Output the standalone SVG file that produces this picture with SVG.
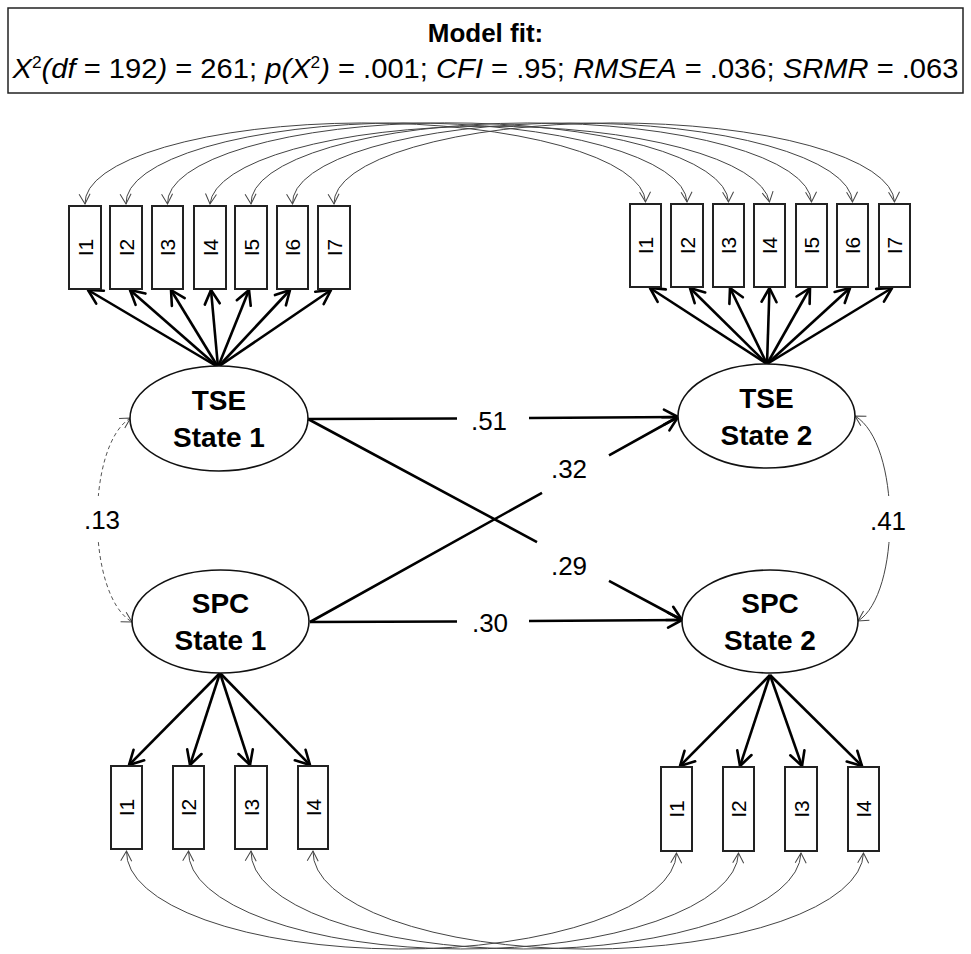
<svg xmlns="http://www.w3.org/2000/svg" width="971" height="954" viewBox="0 0 971 954">
<style>
  text { font-family: "Liberation Sans", Arial, sans-serif; fill: #000; }
  .ind { fill: #fff; stroke: #222; stroke-width: 2; }
  .lat { fill: #fff; stroke: #111; stroke-width: 1.6; }
  .ilab { font-size: 21px; text-anchor: middle; dominant-baseline: central; }
  .llab { font-size: 28px; font-weight: bold; text-anchor: middle; }
  .plab { font-size: 26px; text-anchor: middle; }
  .thick { fill: none; stroke: #000; stroke-width: 2.6; marker-end: url(#ah); }
  .cov { fill: none; stroke: #444; stroke-width: 1; marker-start: url(#th); marker-end: url(#th); }
  .dash { stroke-dasharray: 4 3; stroke: #555; }
</style>
<defs>
  <marker id="ah" markerUnits="userSpaceOnUse" viewBox="-18 -10 20 20" refX="0" refY="0" markerWidth="20" markerHeight="20" orient="auto" overflow="visible">
    <path d="M -14 -7.5 L 0 0 L -14 7.5" fill="none" stroke="#000" stroke-width="2.6" stroke-linejoin="round" stroke-linecap="round"/>
  </marker>
  <marker id="th" markerUnits="userSpaceOnUse" viewBox="-12 -7 14 14" refX="0" refY="0" markerWidth="14" markerHeight="14" orient="auto-start-reverse" overflow="visible">
    <path d="M -10 -5.5 L 0 0 L -10 5.5" fill="none" stroke="#444" stroke-width="1"/>
  </marker>
</defs>

<g id="fit-box">
  <rect x="8" y="8" width="955" height="85" fill="#fff" stroke="#222" stroke-width="1.5"/>
  <text x="485.5" y="42" font-size="26" font-weight="bold" text-anchor="middle">Model fit:</text>
  <text x="485.5" y="78" font-size="27" text-anchor="middle" textLength="946" lengthAdjust="spacingAndGlyphs"><tspan font-style="italic">X</tspan><tspan font-size="16" dy="-10">2</tspan><tspan font-style="italic" dy="10">(df</tspan> = 192<tspan font-style="italic">)</tspan> = 261; <tspan font-style="italic">p(X</tspan><tspan font-size="16" dy="-10">2</tspan><tspan font-style="italic" dy="10">)</tspan> = .001; <tspan font-style="italic">CFI</tspan> = .95; <tspan font-style="italic">RMSEA</tspan> = .036; <tspan font-style="italic">SRMR</tspan> = .063</text>
</g>

<g id="connectors">
  <!-- top covariance arcs -->
  <path class="cov" d="M 85 204 A 280 80 0 0 1 645.5 202"/>
  <path class="cov" d="M 126 204 A 280 80 0 0 1 687 202"/>
  <path class="cov" d="M 167.5 204 A 280 80 0 0 1 728.5 202"/>
  <path class="cov" d="M 210 204 A 280 80 0 0 1 769.5 202"/>
  <path class="cov" d="M 251 204 A 280 80 0 0 1 811.5 202"/>
  <path class="cov" d="M 292.5 204 A 280 80 0 0 1 852.5 202"/>
  <path class="cov" d="M 334 204 A 280 80 0 0 1 894.5 202"/>
  <!-- bottom covariance arcs -->
  <path class="cov" d="M 126.5 851 A 275 97 0 0 0 676.5 853"/>
  <path class="cov" d="M 188.5 851 A 275 97 0 0 0 738.5 853"/>
  <path class="cov" d="M 251 851 A 275 97 0 0 0 801 853"/>
  <path class="cov" d="M 313 851 A 275 97 0 0 0 863.5 853"/>
  <!-- latent covariances -->
  <path class="cov dash" d="M 130.5 418 C 86 445, 86 595, 132 622"/>
  <path class="cov" d="M 855 416 C 901 443, 901 594, 858 621"/>
  <!-- loadings TSE State 1 -->
  <path class="thick" d="M 218 367 L 88 290"/>
  <path class="thick" d="M 218 367 L 130 290"/>
  <path class="thick" d="M 218 367 L 171 290"/>
  <path class="thick" d="M 218 367 L 211 290"/>
  <path class="thick" d="M 218 367 L 249 290"/>
  <path class="thick" d="M 218 367 L 290 290"/>
  <path class="thick" d="M 218 367 L 331 290"/>
  <!-- loadings TSE State 2 -->
  <path class="thick" d="M 767 364 L 650 288"/>
  <path class="thick" d="M 767 364 L 690 288"/>
  <path class="thick" d="M 767 364 L 730 288"/>
  <path class="thick" d="M 767 364 L 769.5 288"/>
  <path class="thick" d="M 767 364 L 810 288"/>
  <path class="thick" d="M 767 364 L 850 288"/>
  <path class="thick" d="M 767 364 L 892 288"/>
  <!-- loadings SPC State 1 -->
  <path class="thick" d="M 220 673 L 129 765"/>
  <path class="thick" d="M 220 673 L 190 765"/>
  <path class="thick" d="M 220 673 L 250 765"/>
  <path class="thick" d="M 220 673 L 310 765"/>
  <!-- loadings SPC State 2 -->
  <path class="thick" d="M 770 675 L 680 766"/>
  <path class="thick" d="M 770 675 L 740 766"/>
  <path class="thick" d="M 770 675 L 802 766"/>
  <path class="thick" d="M 770 675 L 862 766"/>
  <!-- structural paths -->
  <path class="thick" d="M 308 419 L 457 418.5 M 529 418 L 678 417"/>
  <path class="thick" d="M 310 622 L 457 621.5 M 529 621 L 682 620"/>
  <path class="thick" d="M 308 419 L 537 542.1 M 609 580.8 L 682 620"/>
  <path class="thick" d="M 310 622 L 542 492.8 M 609 455.4 L 678 417"/>
</g>

<g id="path-labels">
  <text class="plab" x="489" y="430">.51</text>
  <text class="plab" x="490" y="632">.30</text>
  <text class="plab" x="569" y="575">.29</text>
  <text class="plab" x="569" y="478">.32</text>
  <rect x="80" y="496" width="44" height="46" fill="#fff"/>
  <text class="plab" x="102" y="529">.13</text>
  <rect x="866" y="496" width="44" height="46" fill="#fff"/>
  <text class="plab" x="888" y="530">.41</text>
</g>

<g id="TSE1">
  <ellipse class="lat" cx="219" cy="418.5" rx="89" ry="52.5"/>
  <text class="llab" x="219" y="410">TSE</text>
  <text class="llab" x="219" y="447">State 1</text>
</g>
<g id="SPC1">
  <ellipse class="lat" cx="220.5" cy="621.5" rx="88.5" ry="51.5"/>
  <text class="llab" x="220.5" y="613">SPC</text>
  <text class="llab" x="220.5" y="650">State 1</text>
</g>
<g id="TSE2">
  <ellipse class="lat" cx="766.5" cy="416" rx="88.5" ry="52"/>
  <text class="llab" x="766.5" y="407.5">TSE</text>
  <text class="llab" x="766.5" y="444.5">State 2</text>
</g>
<g id="SPC2">
  <ellipse class="lat" cx="770" cy="621.5" rx="88" ry="51.5"/>
  <text class="llab" x="770" y="613">SPC</text>
  <text class="llab" x="770" y="650">State 2</text>
</g>

<g id="TSE1-I1"><rect class="ind" x="69" y="206" width="32" height="83"/><text class="ilab" transform="translate(85 247.5) rotate(-90)">I1</text></g>
<g id="TSE1-I2"><rect class="ind" x="110" y="206" width="32" height="83"/><text class="ilab" transform="translate(126 247.5) rotate(-90)">I2</text></g>
<g id="TSE1-I3"><rect class="ind" x="152" y="206" width="31" height="83"/><text class="ilab" transform="translate(167.5 247.5) rotate(-90)">I3</text></g>
<g id="TSE1-I4"><rect class="ind" x="194" y="206" width="32" height="83"/><text class="ilab" transform="translate(210 247.5) rotate(-90)">I4</text></g>
<g id="TSE1-I5"><rect class="ind" x="235" y="206" width="32" height="83"/><text class="ilab" transform="translate(251 247.5) rotate(-90)">I5</text></g>
<g id="TSE1-I6"><rect class="ind" x="277" y="206" width="31" height="83"/><text class="ilab" transform="translate(292.5 247.5) rotate(-90)">I6</text></g>
<g id="TSE1-I7"><rect class="ind" x="318" y="206" width="32" height="83"/><text class="ilab" transform="translate(334 247.5) rotate(-90)">I7</text></g>

<g id="TSE2-I1"><rect class="ind" x="630" y="204" width="31" height="83"/><text class="ilab" transform="translate(645.5 245.5) rotate(-90)">I1</text></g>
<g id="TSE2-I2"><rect class="ind" x="671" y="204" width="32" height="83"/><text class="ilab" transform="translate(687 245.5) rotate(-90)">I2</text></g>
<g id="TSE2-I3"><rect class="ind" x="713" y="204" width="31" height="83"/><text class="ilab" transform="translate(728.5 245.5) rotate(-90)">I3</text></g>
<g id="TSE2-I4"><rect class="ind" x="754" y="204" width="31" height="83"/><text class="ilab" transform="translate(769.5 245.5) rotate(-90)">I4</text></g>
<g id="TSE2-I5"><rect class="ind" x="796" y="204" width="31" height="83"/><text class="ilab" transform="translate(811.5 245.5) rotate(-90)">I5</text></g>
<g id="TSE2-I6"><rect class="ind" x="837" y="204" width="31" height="83"/><text class="ilab" transform="translate(852.5 245.5) rotate(-90)">I6</text></g>
<g id="TSE2-I7"><rect class="ind" x="879" y="204" width="31" height="83"/><text class="ilab" transform="translate(894.5 245.5) rotate(-90)">I7</text></g>

<g id="SPC1-I1"><rect class="ind" x="111" y="766" width="31" height="83"/><text class="ilab" transform="translate(126.5 807.5) rotate(-90)">I1</text></g>
<g id="SPC1-I2"><rect class="ind" x="173" y="766" width="31" height="83"/><text class="ilab" transform="translate(188.5 807.5) rotate(-90)">I2</text></g>
<g id="SPC1-I3"><rect class="ind" x="235" y="766" width="32" height="83"/><text class="ilab" transform="translate(251 807.5) rotate(-90)">I3</text></g>
<g id="SPC1-I4"><rect class="ind" x="298" y="766" width="30" height="83"/><text class="ilab" transform="translate(313 807.5) rotate(-90)">I4</text></g>

<g id="SPC2-I1"><rect class="ind" x="661" y="767" width="31" height="84"/><text class="ilab" transform="translate(676.5 809) rotate(-90)">I1</text></g>
<g id="SPC2-I2"><rect class="ind" x="723" y="767" width="31" height="84"/><text class="ilab" transform="translate(738.5 809) rotate(-90)">I2</text></g>
<g id="SPC2-I3"><rect class="ind" x="785" y="767" width="32" height="84"/><text class="ilab" transform="translate(801 809) rotate(-90)">I3</text></g>
<g id="SPC2-I4"><rect class="ind" x="848" y="767" width="31" height="84"/><text class="ilab" transform="translate(863.5 809) rotate(-90)">I4</text></g>
</svg>
